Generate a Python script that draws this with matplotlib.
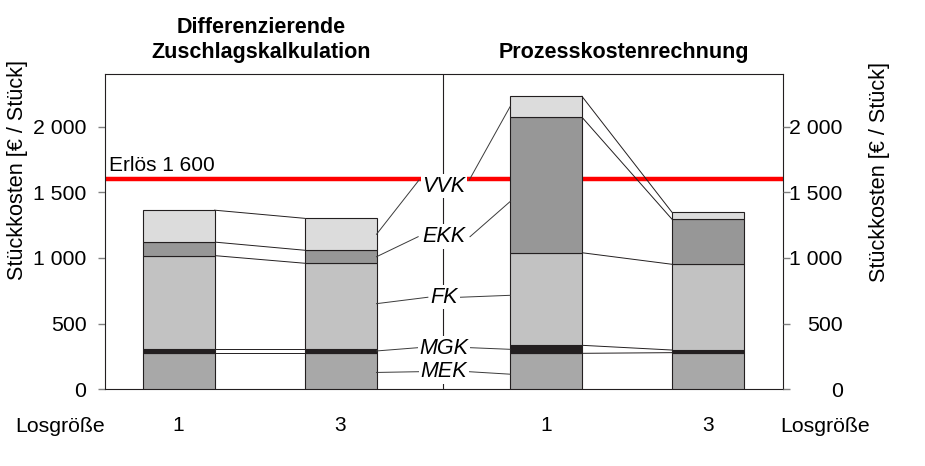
import matplotlib
matplotlib.use('Agg')
import matplotlib.pyplot as plt
import numpy as np

plt.rcParams['font.family'] = ['Liberation Sans', 'DejaVu Sans']

# ---- data ----
lose = ['1', '3', '1', '3']
components = ['MEK', 'MGK', 'FK', 'EKK', 'VVK']
mek = [279, 279, 274, 279]
mgk = [26, 26, 61, 20]
fk = [713, 655, 705, 653]
ekk = [103, 99, 1032, 343]
vvk = [243, 243, 159, 53]
erloes = 1600
methods = ['Differenzierende\nZuschlagskalkulation', 'Prozesskostenrechnung']
y_ticks = [0, 500, 1000, 1500, 2000]
y_tick_labels = ['0', '500', '1 000', '1 500', '2 000']
axis_label = 'Stückkosten [€ / Stück]'
x_axis_label = 'Losgröße'

# ---- style / layout ----
colors = ['#a8a8a8', '#231f20', '#c2c2c2', '#979797', '#dcdcdc']
edge = '#231f20'
xpos = np.array([0.0, 1.0, 2.268, 3.268])
width = 0.444
FS = 15

fig = plt.figure(figsize=(9.25, 4.66), dpi=100)
W, H = 925, 466
ax = fig.add_axes([105 / W, 1 - 389.3 / H, (783 - 105) / W, (389.3 - 74) / H])
ax.set_xlim(-0.454, 3.731)
ax.set_ylim(0, 2401)

series = [mek, mgk, fk, ekk, vvk]
bottoms = np.zeros(4)
cums = []
for vals, c in zip(series, colors):
    vals = np.array(vals, dtype=float)
    ax.bar(xpos, vals, width, bottom=bottoms, color=c, edgecolor=edge,
           linewidth=0.8, zorder=3)
    bottoms = bottoms + vals
    cums.append(bottoms.copy())
cums = np.array(cums)  # level tops, shape (5, 4)
lows = np.vstack([np.zeros(4), cums[:-1]])

# connector lines between bars of each method
for a, b in [(0, 1), (2, 3)]:
    for lvl in range(5):
        ax.plot([xpos[a] + width / 2, xpos[b] - width / 2],
                [cums[lvl, a], cums[lvl, b]], color=edge, lw=0.7, zorder=2)

# revenue line
ax.axhline(erloes, color='#ff0000', lw=3.2, zorder=1)
ax.text(-0.43, erloes + 65, f'Erlös {erloes:,}'.replace(',', ' '),
        fontsize=FS, ha='left', va='baseline', zorder=4)

# divider
div_x = 1.633
ax.axvline(div_x, color=edge, lw=0.8, zorder=0.5)

# labels in the middle with leaders
lab_x = 1.639
lab_y = {'VVK': 1548, 'EKK': 1162, 'FK': 701, 'MGK': 312, 'MEK': 134}
half = {'VVK': 0.155, 'EKK': 0.16, 'FK': 0.10, 'MGK': 0.16, 'MEK': 0.155}
anchor_dy = {'VVK': 45, 'EKK': 0, 'FK': 0, 'MGK': 5, 'MEK': 0}
frac_left = {'VVK': 0.5, 'EKK': 0.5, 'FK': 0.53, 'MGK': 0.5, 'MEK': 0.46}
frac_right = {'VVK': 0.5, 'EKK': 0.377, 'FK': 0.54, 'MGK': 0.5, 'MEK': 0.42}
for i, name in enumerate(components):
    ly = lab_y[name]
    ax.text(lab_x, ly, name, fontsize=15.5, style='italic', ha='center',
            va='center', zorder=6,
            bbox=dict(boxstyle='square,pad=0.08', fc='white', ec='none'))
    yl = lows[i, 1] + frac_left[name] * (cums[i, 1] - lows[i, 1])
    ax.plot([lab_x - half[name], xpos[1] + width / 2], [ly + anchor_dy[name], yl],
            color='#3a3a3a', lw=0.7, zorder=5)
    yr = lows[i, 2] + frac_right[name] * (cums[i, 2] - lows[i, 2])
    ax.plot([lab_x + half[name], xpos[2] - width / 2], [ly + anchor_dy[name], yr],
            color='#3a3a3a', lw=0.7, zorder=5)

# spines
for s in ax.spines.values():
    s.set_color(edge)
    s.set_linewidth(0.8)

# x ticks
ax.set_xticks(xpos, lose)
ax.tick_params(axis='x', length=0, pad=19.5, labelsize=FS)

# left y ticks
ax.set_yticks(y_ticks, y_tick_labels)
ax.tick_params(axis='y', direction='out', length=5, width=1, color='#808080',
               pad=8.4, labelsize=15.3)

# right y axis
ax2 = ax.twinx()
ax2.set_ylim(ax.get_ylim())
ax2.set_yticks(y_ticks, y_tick_labels)
ax2.tick_params(axis='y', direction='out', length=5, width=1, color='#808080',
                pad=38, labelsize=15.3)
for t in ax2.get_yticklabels():
    t.set_horizontalalignment('right')
for s in ax2.spines.values():
    s.set_visible(False)

# axis labels
fig.text(18 / W, 1 - 170 / H, axis_label, rotation=90, ha='center', va='center', fontsize=15.6)
fig.text(880 / W, 1 - 171.5 / H, axis_label, rotation=90, ha='center', va='center', fontsize=15.6)
fig.text(15 / W, 1 - 431.5 / H, x_axis_label, ha='left', va='baseline', fontsize=15.3)
fig.text(780 / W, 1 - 431.5 / H, x_axis_label, ha='left', va='baseline', fontsize=15.3)

# method titles
title_x = [261, 624]
for tx, m in zip(title_x, methods):
    lines = m.split('\n')
    for k, line in enumerate(reversed(lines)):
        fig.text(tx / W, 1 - (58.3 - 25 * k) / H, line, ha='center', va='baseline',
                 fontsize=15.5, fontweight='bold')

fig.savefig('out.png', dpi=100)
